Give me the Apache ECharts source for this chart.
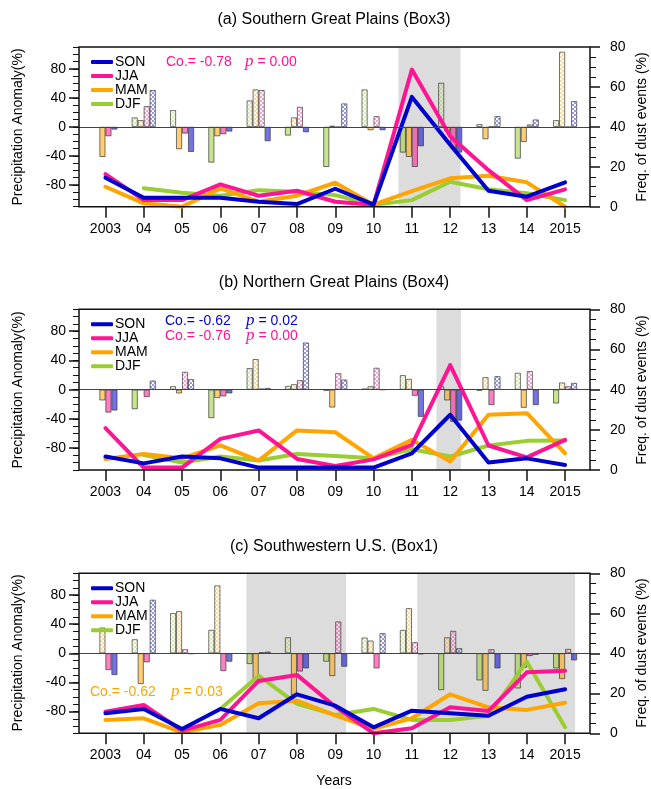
<!DOCTYPE html>
<html><head><meta charset="utf-8">
<script src="https://cdn.jsdelivr.net/npm/echarts@6/dist/echarts.min.js"></script>
<style>html,body{margin:0;padding:0;background:#fff}#c{width:651px;height:789px}</style>
</head><body><div id="c"></div>
<script>
// ---------- data ----------
const years = [2003,2004,2005,2006,2007,2008,2009,2010,2011,2012,2013,2014,2015];
const xLabels = ['2003','04','05','06','07','08','09','10','11','12','13','14','2015'];
const seasons = ['SON','JJA','MAM','DJF'];

// Panel (a) Southern Great Plains (Box3)
const A_DJF_bar = [null, 12.9, 23, -49.2, 36.3, -12, -55.2, 51.5, -35.4, 60.7, 3.7, -43.7, 9.2];
const A_MAM_bar = [-41.4, 9.2, -30.8, -12.9, 51.5, 12.9, 1.5, -4.6, -41.4, -6, -17, -20.7, 103.4];
const A_JJA_bar = [-12.9, 28.5, -9.2, -10.1, 50.6, 27.6, -0.5, 14.7, -55.2, -29.9, 0, 3.2, -0.5];
const A_SON_bar = [-3.7, 50.6, -34.5, -6.4, -19.8, -7.4, 32.2, -4.6, -26.7, -35.4, 14.7, 10.1, 35.4];
const A_SON = [14.5, 4.5, 4.5, 4.5, 2.5, 1.3, 9, 1, 55, 31, 8, 5, 12.2];
const A_JJA = [16.3, 3.3, 3.3, 11.2, 5.5, 8, 2.5, 1, 68.7, 35.3, 18.3, 3.3, 8.7];
const A_MAM = [10, 1.7, 0, 9.2, 2.5, 5.5, 12, 1, 7.8, 14.2, 15.5, 12.2, 0];
const A_DJF = [null, 9.2, 7, 5.5, 8.3, 7.5, 5.8, 1, 3.3, 12.5, 8.7, 6.7, 3.3];
const A_shade = [[2010.65, 2012.27]];

// Panel (b) Northern Great Plains (Box4)
const B_DJF_bar = [null, -26.7, 4.6, -39, 29.4, 5, -1.4, 1.4, 19.8, 4.6, -1.4, 23, -18.9];
const B_MAM_bar = [-14.7, -0.5, -5.1, -11.5, 41.8, 7.4, -24.4, 4.6, 14.7, -14.7, 17, -24.8, 9.7];
const B_JJA_bar = [-31.3, -10.1, 24.4, -9.2, 1.4, 12.9, 22.5, 29.9, -8.3, -44, -21.1, 25.3, 4.6];
const B_SON_bar = [-28.5, 12.4, 14.3, -5.1, 2.3, 64.4, 13.8, 0, -37.2, -42.3, 18.4, -21.1, 9.2];
const B_SON = [6.7, 3.3, 6.7, 5.8, 1.2, 1.2, 1.2, 1.2, 8.3, 27.5, 3.7, 5.8, 2.5];
const B_JJA = [20.8, 1.2, 1.2, 15.5, 19.7, 5.5, 2, 5.3, 12.5, 52.2, 12.2, 6.3, 15];
const B_MAM = [5.5, 8, 5.8, 12.3, 4.7, 19.7, 18.8, 5.8, 15, 4.2, 27.5, 28.3, 8.3];
const B_DJF = [null, 7.5, 3.7, 6.7, 4.7, 8, 7, 5.8, 10.3, 6.7, 12.2, 14.5, 14.7];
const B_shade = [[2011.64, 2012.28]];

// Panel (c) Southwestern U.S. (Box1)
const C_DJF_bar = [null, 19.3, 55.2, 32.2, -14.7, 22, -11.5, 21.6, 32.2, -50.6, -37.2, -48.3, -20.7];
const C_MAM_bar = [35.4, -42.3, 57.9, 93.3, -39, -57.5, -31.3, 17.5, 62, 22, -51.5, -20, -35.4];
const C_JJA_bar = [-23, -12.4, 5.5, -24.4, 1.4, -25, 43.7, -20.7, 15.2, 30.8, 5.5, -3.7, 6];
const C_SON_bar = [-29.9, 73.6, -1, -11.5, 2.3, -20.7, -18.4, 27.6, -1.4, 6.9, -20.7, -2, -9.7];
const C_SON = [10, 12.2, 2.2, 12.2, 7.5, 19.5, 13.8, 3, 11.3, 10, 8.8, 18.3, 22];
const C_JJA = [10.8, 14.2, 1.3, 6.7, 26.2, 29.2, 13.3, 0, 2.5, 13, 11.2, 30.5, 31.3];
const C_MAM = [6.7, 7.5, 0.5, 4.2, 15, 16.3, 9, 2.2, 7.5, 19.5, 13, 11.7, 15.3];
const C_DJF = [null, null, null, 12.2, 28.8, 14.7, 9.2, 12.2, 6.7, 6.7, 8.8, 35.8, 3];
const C_shade = [[2006.68, 2009.28], [2011.14, 2015.26]];

const leftTicks = [-80, -40, 0, 40, 80];

// ---------- styling ----------
const COL = {SON: '#0000cd', JJA: '#ff1493', MAM: '#ffa500', DJF: '#9acd32'};
const RGB = {SON: [0,0,205], JJA: [255,20,147], MAM: [255,165,0], DJF: [154,205,50]};
const FONT = 'Liberation Sans, Arial, Helvetica, sans-serif';

const patCache = {};
function pattern(s) {
  if (patCache[s]) return patCache[s];
  const cv = document.createElement('canvas');
  cv.width = 4; cv.height = 4;
  const ctx = cv.getContext('2d');
  ctx.fillStyle = COL[s];
  ctx.beginPath(); ctx.arc(1, 1, 0.75, 0, Math.PI * 2); ctx.fill();
  ctx.beginPath(); ctx.arc(3, 3, 0.75, 0, Math.PI * 2); ctx.fill();
  patCache[s] = {image: cv, repeat: 'repeat'};
  return patCache[s];
}
function solid(s) { const c = RGB[s]; return 'rgba(' + c[0] + ',' + c[1] + ',' + c[2] + ',0.55)'; }

const panels = [
  {top: 47, height: 159.7, bars: {DJF: A_DJF_bar, MAM: A_MAM_bar, JJA: A_JJA_bar, SON: A_SON_bar},
   lines: {DJF: A_DJF, MAM: A_MAM, JJA: A_JJA, SON: A_SON}, shade: A_shade},
  {top: 309.3, height: 160.7, bars: {DJF: B_DJF_bar, MAM: B_MAM_bar, JJA: B_JJA_bar, SON: B_SON_bar},
   lines: {DJF: B_DJF, MAM: B_MAM, JJA: B_JJA, SON: B_SON}, shade: B_shade},
  {top: 573.3, height: 160, bars: {DJF: C_DJF_bar, MAM: C_MAM_bar, JJA: C_JJA_bar, SON: C_SON_bar},
   lines: {DJF: C_DJF, MAM: C_MAM, JJA: C_JJA, SON: C_SON}, shade: C_shade}
];

const grid = [], xAxis = [], yAxis = [], series = [], legend = [];
panels.forEach((p, k) => {
  grid.push({left: 79, right: 61, top: p.top, height: p.height, show: true, borderColor: '#111', borderWidth: 1.5, backgroundColor: 'transparent', z: 10});
  xAxis.push({type: 'value', gridIndex: k, min: 2002.31, max: 2015.65, position: 'bottom',
    axisLine: {show: false, onZero: false}, splitLine: {show: false},
    axisTick: {show: true, length: 11, customValues: years, lineStyle: {color: '#111', width: 1.5}},
    axisLabel: {show: true, customValues: years, margin: 15, color: '#000', fontSize: 14, fontFamily: FONT,
      formatter: v => xLabels[years.indexOf(Math.round(v))]}});
  // left main
  yAxis.push({type: 'value', gridIndex: k, min: -110, max: 110, position: 'left',
    axisLine: {show: false, onZero: false}, splitLine: {show: false},
    axisTick: {show: true, length: 10, customValues: leftTicks, lineStyle: {color: '#111', width: 1.5}},
    axisLabel: {show: true, customValues: leftTicks, margin: 13, color: '#000', fontSize: 14, fontFamily: FONT}});
  // left minor ticks
  yAxis.push({type: 'value', gridIndex: k, min: -110, max: 110, interval: 10, position: 'left',
    axisLine: {show: false, onZero: false}, splitLine: {show: false}, axisLabel: {show: false},
    axisTick: {show: true, length: 6, lineStyle: {color: '#111', width: 1}}});
  // right
  yAxis.push({type: 'value', gridIndex: k, min: 0, max: 80, interval: 20, position: 'right',
    axisLine: {show: false, onZero: false}, splitLine: {show: false},
    axisTick: {show: true, length: 10, lineStyle: {color: '#111', width: 1.5}},
    minorTick: {show: true, splitNumber: 4, length: 6, lineStyle: {color: '#111', width: 1}},
    axisLabel: {show: true, margin: 20, color: '#000', fontSize: 14, fontFamily: FONT}});

  // shading helper
  series.push({type: 'line', xAxisIndex: k, yAxisIndex: k * 3, data: [[2003, 0]], symbol: 'none', silent: true,
    lineStyle: {opacity: 0}, z: 1,
    markArea: {silent: true, itemStyle: {color: '#dcdcdc'}, data: p.shade.map(r => [{xAxis: r[0]}, {xAxis: r[1]}])}});
  // zero line
  series.push({type: 'line', xAxisIndex: k, yAxisIndex: k * 3, data: [[2003, 0]], symbol: 'none', silent: true,
    lineStyle: {opacity: 0}, z: 1.5,
    markLine: {silent: true, symbol: 'none', label: {show: false}, lineStyle: {color: '#444', width: 1, type: 'solid'}, data: [{yAxis: 0}]}});
  // bars, order DJF, MAM, JJA, SON
  ['DJF', 'MAM', 'JJA', 'SON'].forEach(s => {
    const arr = p.bars[s];
    const data = [];
    years.forEach((y, i) => {
      if (arr[i] == null) { data.push([y, '-']); return; }
      data.push({value: [y, arr[i]], itemStyle: {color: arr[i] >= 0 ? pattern(s) : solid(s)}});
    });
    series.push({type: 'bar', name: s + ' bar', xAxisIndex: k, yAxisIndex: k * 3, barWidth: 6, barGap: '0%',
      z: 2, silent: true, data: data,
      itemStyle: {borderColor: 'rgba(50,50,50,0.85)', borderWidth: 0.8}});
  });
  // lines
  ['DJF', 'MAM', 'JJA', 'SON'].forEach(s => {
    const arr = p.lines[s];
    const data = [];
    years.forEach((y, i) => { if (arr[i] != null) data.push([y, arr[i]]); });
    series.push({type: 'line', name: s, xAxisIndex: k, yAxisIndex: k * 3 + 2, data: data, symbol: 'none',
      z: 3, silent: true, lineStyle: {color: COL[s], width: 4, cap: 'round', join: 'round'}, itemStyle: {color: COL[s]}});
  });
  legend.push({orient: 'vertical', left: 86, top: p.top + 3, data: seasons, icon: 'roundRect', itemWidth: 22, itemHeight: 4,
    itemGap: 0, selectedMode: false, textStyle: {fontSize: 14, lineHeight: 14, color: '#000', fontFamily: FONT, padding: [0, 0, 0, -3]}});
});

function txt(x, y, text, color, opts) {
  return Object.assign({type: 'text', x: x, y: y, z: 100, silent: true,
    style: {text: text, fill: color || '#000', font: '14px ' + FONT, textAlign: 'left', textVerticalAlign: 'middle'}}, opts || {});
}
function pText(x, y, val, color) {
  return {type: 'text', x: x, y: y, z: 100, silent: true,
    style: {text: '{p|p}{n| = ' + val + '}', fill: color, textVerticalAlign: 'middle',
      rich: {p: {font: 'italic 17px Liberation Serif, DejaVu Serif, serif', fill: color},
             n: {font: '14px ' + FONT, fill: color}}}};
}
const graphic = [
  txt(334, 20, '', '#000', {style: {text: '(a) Southern Great Plains (Box3)', fill: '#000', font: '16px ' + FONT, textAlign: 'center', textVerticalAlign: 'middle'}}),
  txt(334, 283, '', '#000', {style: {text: '(b) Northern Great Plains (Box4)', fill: '#000', font: '16px ' + FONT, textAlign: 'center', textVerticalAlign: 'middle'}}),
  txt(334, 547, '', '#000', {style: {text: '(c) Southwestern U.S. (Box1)', fill: '#000', font: '16px ' + FONT, textAlign: 'center', textVerticalAlign: 'middle'}}),
  txt(334, 781, '', '#000', {style: {text: 'Years', fill: '#000', font: '14px ' + FONT, textAlign: 'center', textVerticalAlign: 'middle'}}),
  txt(166, 62, 'Co.= -0.78', '#ff1493'), pText(245, 62, '0.00', '#ff1493'),
  txt(165, 321, 'Co.= -0.62', '#0000cd'), pText(246, 321, '0.02', '#0000cd'),
  txt(165, 336, 'Co.= -0.76', '#ff1493'), pText(246, 336, '0.00', '#ff1493'),
  txt(90, 692, 'Co.= -0.62', '#ffa500'), pText(171, 692, '0.03', '#ffa500')
];
[127, 390, 653].forEach(cy => {
  graphic.push({type: 'text', x: 18, y: cy, rotation: Math.PI / 2, z: 100, silent: true,
    style: {text: 'Precipitation Anomaly(%)', fill: '#000', font: '14px ' + FONT, textAlign: 'center', textVerticalAlign: 'middle'}});
  graphic.push({type: 'text', x: 642, y: cy, rotation: Math.PI / 2, z: 100, silent: true,
    style: {text: 'Freq. of dust events (%)', fill: '#000', font: '14px ' + FONT, textAlign: 'center', textVerticalAlign: 'middle'}});
});

const chart = echarts.init(document.getElementById('c'), null, {renderer: 'canvas'});
chart.setOption({animation: false, backgroundColor: '#fff', grid, xAxis, yAxis, series, legend, graphic});
</script></body></html>
